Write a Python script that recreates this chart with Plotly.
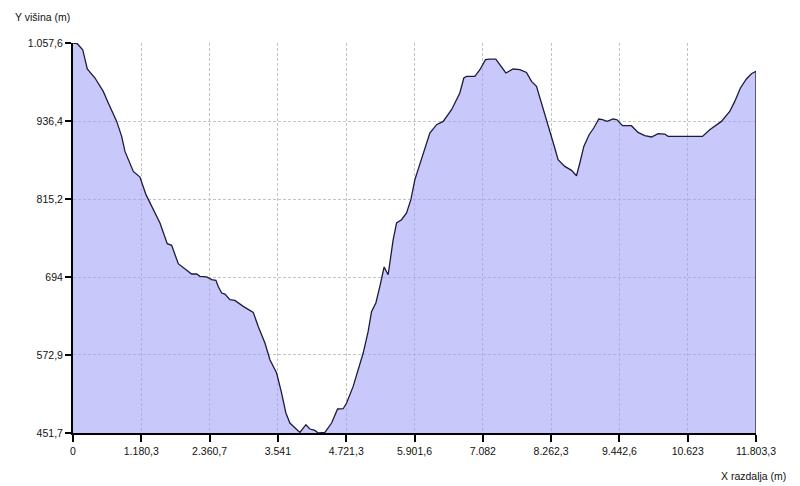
import plotly.graph_objects as go

# Distance along the profile (m)
distance_m = [
    0, 74, 168, 247, 380, 523, 610, 755, 841, 898, 1042, 1157, 1261, 1387, 1503,
    1629, 1705, 1819, 1935, 2050, 2137, 2194, 2310, 2396, 2470, 2510, 2569, 2626,
    2712, 2798, 2942, 3058, 3115, 3201, 3317, 3403, 3519, 3605, 3679, 3748, 3835,
    3921, 4025, 4094, 4180, 4237, 4353, 4469, 4572, 4669, 4728, 4842, 5015, 5101,
    5160, 5234, 5303, 5377, 5446, 5488, 5533, 5592, 5678, 5764, 5839, 5908, 6024,
    6167, 6283, 6397, 6542, 6685, 6754, 6801, 6944, 7031, 7129, 7203, 7307, 7376,
    7480, 7606, 7722, 7837, 7924, 8010, 8124, 8240, 8326, 8383, 8499, 8615, 8701,
    8759, 8828, 8919, 9000, 9086, 9150, 9230, 9333, 9402, 9496, 9651, 9765, 9881,
    9997, 10111, 10227, 10284, 10486, 10878, 11004, 11119, 11206, 11349, 11436,
    11534, 11638, 11724, 11803.3,
]

# Elevation (m)
elevation_m = [
    1057.6, 1056.5, 1047.2, 1017.2, 1003.2, 982.4, 964.4, 935.8, 912.5, 889.2,
    858.1, 849.4, 822.0, 798.6, 778.0, 745.8, 743.2, 714.8, 706.5, 698.7, 698.7,
    695.0, 694.1, 689.9, 688.8, 679.4, 669.2, 667.6, 658.8, 657.7, 648.4, 642.2,
    639.1, 617.3, 591.5, 565.6, 544.9, 513.8, 482.8, 467.2, 459.5, 452.6, 464.6,
    457.9, 455.7, 451.7, 452.6, 467.2, 489.0, 489.4, 498.3, 524.1, 575.9, 609.5,
    640.6, 653.7, 679.5, 709.6, 697.6, 723.6, 752.0, 778.0, 783.1, 793.5, 814.2,
    845.3, 876.3, 917.8, 930.7, 935.8, 954.0, 979.9, 1003.2, 1005.7, 1005.7,
    1016.1, 1031.7, 1032.7, 1032.7, 1023.9, 1011.0, 1017.2, 1016.1, 1011.9, 998.0,
    990.2, 956.6, 920.3, 894.5, 876.3, 865.9, 859.7, 851.4, 871.2, 896.9, 915.1,
    925.5, 939.5, 938.4, 935.8, 939.5, 938.4, 929.1, 929.1, 918.7, 913.6, 911.6,
    916.7, 916.2, 912.5, 912.5, 912.5, 922.9, 930.7, 935.8, 951.3, 966.9, 987.7,
    1001.7, 1009.9, 1013.5,
]

x_tick_vals = [0, 1180.3, 2360.7, 3541, 4721.3, 5901.6, 7082, 8262.3, 9442.6, 10623, 11803.3]
x_tick_text = ["0", "1.180,3", "2.360,7", "3.541", "4.721,3", "5.901,6", "7.082",
               "8.262,3", "9.442,6", "10.623", "11.803,3"]
y_tick_vals = [451.7, 572.9, 694.0, 815.2, 936.4, 1057.6]
y_tick_text = ["451,7", "572,9", "694", "815,2", "936,4", "1.057,6"]

x_title = "X razdalja (m)"
y_title = "Y višina (m)"

y_min = y_tick_vals[0]
y_max = y_tick_vals[-1]
x_max = x_tick_vals[-1]

FONT = "Liberation Sans, Arial, sans-serif"

fig = go.Figure()
fig.add_trace(go.Scatter(
    x=distance_m, y=elevation_m, mode="lines",
    line=dict(color="#1c1c3a", width=1.3),
    fill="tozeroy", fillcolor="rgba(160,160,248,0.58)",
    hoverinfo="x+y", showlegend=False,
))
# closing edge of the filled profile at the right end
fig.add_trace(go.Scatter(
    x=[distance_m[-1], distance_m[-1]], y=[y_min, elevation_m[-1]], mode="lines",
    line=dict(color="#1c1c3a", width=1.3), hoverinfo="skip", showlegend=False,
))

fig.update_xaxes(
    range=[0, x_max], tickvals=x_tick_vals, ticktext=x_tick_text,
    showgrid=True, gridcolor="#c4c4c4", griddash="3px,2px", gridwidth=1,
    showline=True, linecolor="black", linewidth=2,
    ticks="outside", ticklen=7, tickwidth=2, tickcolor="black",
    tickfont=dict(family=FONT, size=10.5, color="#111"),
    zeroline=False,
)
fig.update_yaxes(
    range=[y_min, y_max], tickvals=y_tick_vals, ticktext=y_tick_text,
    showgrid=True, gridcolor="#c4c4c4", griddash="3px,2px", gridwidth=1,
    showline=True, linecolor="black", linewidth=2,
    ticks="outside", ticklen=6, tickwidth=2, tickcolor="black",
    tickfont=dict(family=FONT, size=10.5, color="#111"),
    zeroline=False,
)

fig.add_annotation(text=y_title, xref="paper", yref="paper", x=-0.088, y=1.086,
                   xanchor="left", yanchor="top", showarrow=False,
                   font=dict(family=FONT, size=10.5, color="#111"))
fig.add_annotation(text=x_title, xref="paper", yref="paper", x=1.0469, y=-0.111,
                   xanchor="right", yanchor="middle", showarrow=False,
                   font=dict(family=FONT, size=10.5, color="#111"))

fig.update_layout(
    width=792, height=478,
    margin=dict(l=65, r=44, t=35, b=53),
    paper_bgcolor="white", plot_bgcolor="white",
    showlegend=False,
)

fig.write_html("out.html")
